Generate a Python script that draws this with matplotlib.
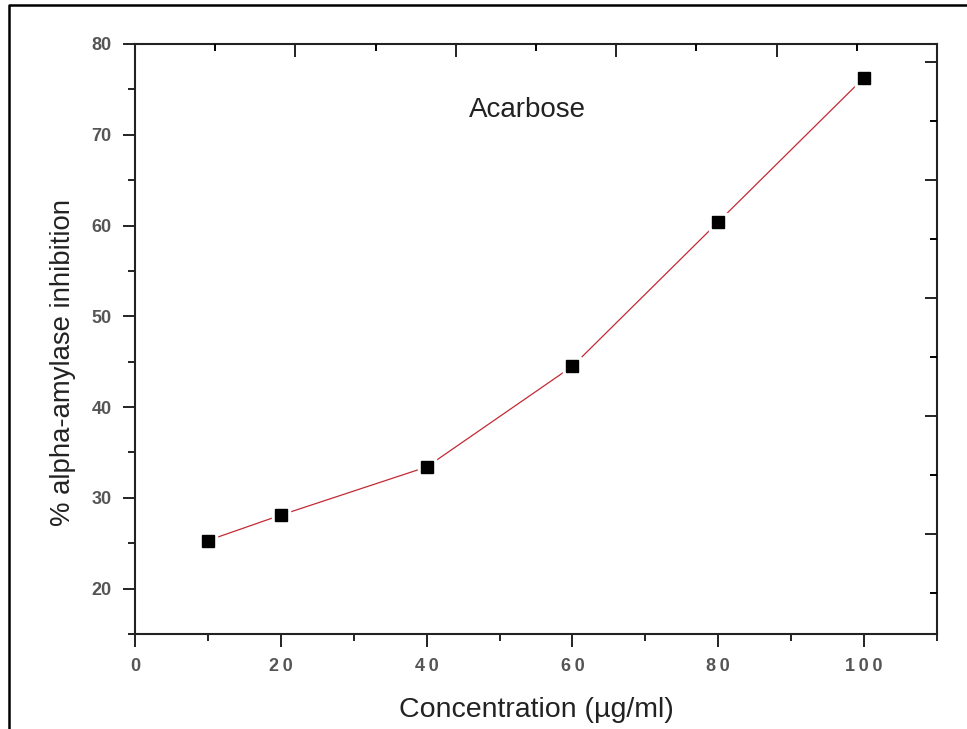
import matplotlib.pyplot as plt
from matplotlib.lines import Line2D
from matplotlib.ticker import MultipleLocator, NullFormatter

plt.rcParams["font.family"] = ["Liberation Sans", "DejaVu Sans"]

# acarbose dose response
conc = [10, 20, 40, 60, 80, 100]
inhibition = [25.3, 28.1, 33.4, 44.5, 60.4, 76.3]
x_ticks = [0, 20, 40, 60, 80, 100]
x_tick_labels = ["0", "2\u20090", "4\u20090", "6\u20090", "8\u20090", "1\u20090\u20090"]
y_ticks = [20, 30, 40, 50, 60, 70, 80]

W, H = 967, 729
fig = plt.figure(figsize=(W / 100, H / 100), dpi=100)
ax = fig.add_axes([135 / W, 1 - 634 / H, (937 - 135) / W, (634 - 44) / H])

line_color = "#c42a35"
ax.plot(conc, inhibition, color=line_color, lw=0.9, zorder=2)
# white halo around each square leaves a small gap in the line
ax.plot(conc, inhibition, ls="none", marker="s", ms=13, color="white", zorder=3)
ax.plot(conc, inhibition, ls="none", marker="s", ms=8.5, color="black", zorder=4)

ax.set_xlim(0, 110)
ax.set_ylim(15, 80)
ax.set_xticks(x_ticks, x_tick_labels)
ax.set_yticks(y_ticks)
ax.xaxis.set_minor_locator(MultipleLocator(10))
ax.yaxis.set_minor_locator(MultipleLocator(5))
ax.xaxis.set_minor_formatter(NullFormatter())
ax.yaxis.set_minor_formatter(NullFormatter())

for sp in ax.spines.values():
    sp.set_linewidth(1.5)
    sp.set_color("#222222")

ax.tick_params(which="major", direction="out", length=9, width=1.4, color="#222222",
               labelsize=13, labelcolor="#555555", pad=8)
ax.tick_params(which="minor", direction="out", length=5, width=1.4, color="#222222")
ax.tick_params(top=False, right=False)
for lab in ax.get_xticklabels() + ax.get_yticklabels():
    lab.set_fontweight("bold")

# opposite axes carry their own unlabeled inward ticks
top = ax.twiny()
top.set_xlim(0, 110)
top.xaxis.set_major_locator(MultipleLocator(22))
top.xaxis.set_minor_locator(MultipleLocator(11))
top.tick_params(axis="x", which="major", direction="in", length=9, width=1.4, labeltop=False)
top.tick_params(axis="x", which="minor", direction="in", length=5, width=1.4)
right = ax.twinx()
right.set_ylim(15, 80)
right.yaxis.set_major_locator(MultipleLocator(13))
right.yaxis.set_minor_locator(MultipleLocator(6.5))
right.tick_params(axis="y", which="major", direction="in", length=9, width=1.4, labelright=False)
right.tick_params(axis="y", which="minor", direction="in", length=5, width=1.4)
for a in (top, right):
    a.tick_params(color="#222222")
    for sp in a.spines.values():
        sp.set_visible(False)

ax.text(53.8, 72.7, "Acarbose", fontsize=20, color="#222222", ha="center", va="center")
ax.set_xlabel("Concentration (µg/ml)", fontsize=20.5, color="#222222", labelpad=16)
ax.set_ylabel("% alpha-amylase inhibition", fontsize=19.8, color="#222222")
ax.yaxis.set_label_coords(-0.073, 0.461)

# outer frame along the left and top edges
fig.add_artist(Line2D([9 / W, 9 / W, 1.0], [0.0, 1 - 5 / H, 1 - 5 / H],
                      transform=fig.transFigure, color="black", lw=1.8))

fig.savefig("out.png", dpi=100)
